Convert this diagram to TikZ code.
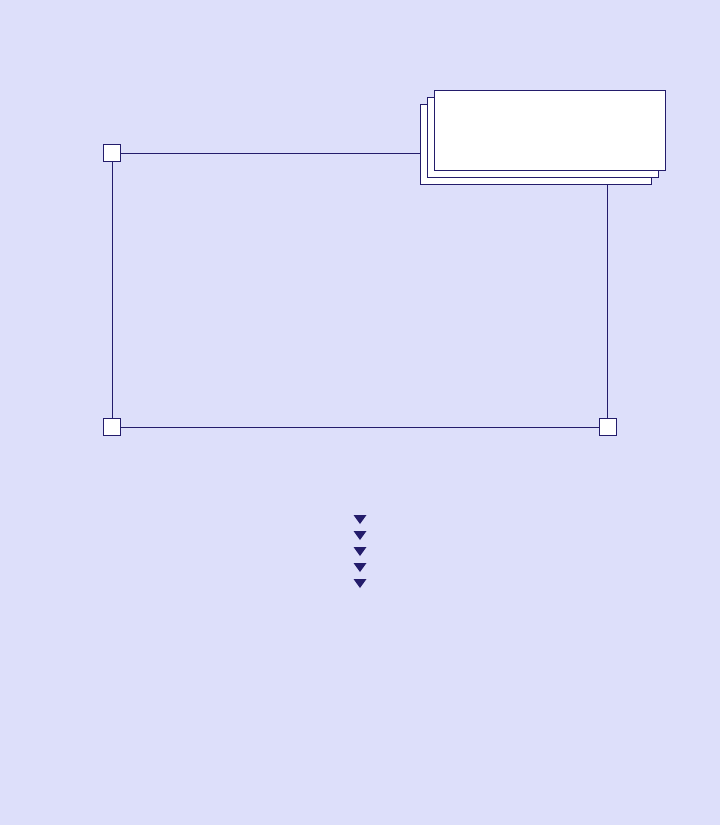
\documentclass[tikz,border=0pt]{standalone}
\usetikzlibrary{calc}
\definecolor{bgc}{RGB}{221,223,250}
\definecolor{ink}{RGB}{35,28,107}
\begin{document}
\begin{tikzpicture}[x=1pt,y=-1pt,
  sq/.style={draw=ink,fill=white,line width=1pt,minimum width=17pt,minimum height=17pt,inner sep=0pt,outer sep=0pt},
  card/.style={draw=ink,fill=white,line width=1pt,minimum width=231pt,minimum height=80pt,inner sep=0pt,outer sep=0pt},
  wire/.style={draw=ink,line width=1pt},
  tri/.style={fill=ink}]
\fill[bgc] (0,0) rectangle (720,825);
\useasboundingbox (0,0) rectangle (720,825);
% stacked cards
\node[card] (c3) at (535.8,144) {};
\node[card] (c2) at (542.8,137) {};
\node[card] (c1) at (549.8,130) {};
% corner squares
\node[sq] (tl) at (112,153) {};
\node[sq] (bl) at (112,427) {};
\node[sq] (br) at (607.7,427) {};
% connectors
\draw[wire] (tl.east) -- (tl.east -| c3.west);
\draw[wire] (tl.south) -- (bl.north);
\draw[wire] (bl.east) -- (br.west);
\draw[wire] (br.north) -- (br.north |- c3.south);
% triangles
\foreach \i/\yy in {1/519.5,2/535.5,3/551.5,4/567.5,5/583.5}{
  \coordinate (t\i) at (360,\yy);
  \fill[tri] ($(t\i)+(-6.5,-4.5)$) -- ($(t\i)+(6.5,-4.5)$) -- ($(t\i)+(0,4.5)$) -- cycle;
}
\end{tikzpicture}
\end{document}
